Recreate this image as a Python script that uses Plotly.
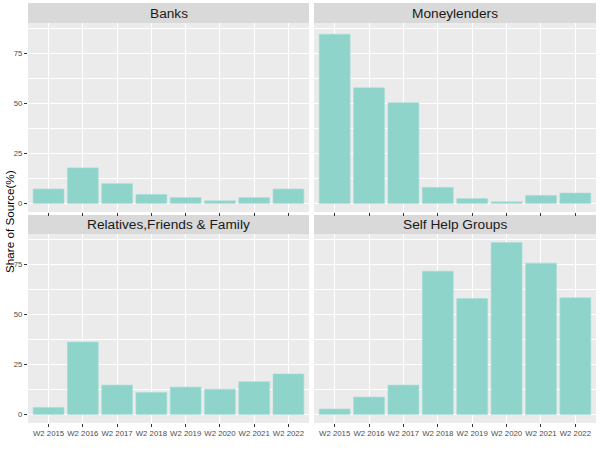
import plotly.graph_objects as go

years = ["W2 2015", "W2 2016", "W2 2017", "W2 2018", "W2 2019", "W2 2020", "W2 2021", "W2 2022"]
sources = ["Banks", "Moneylenders", "Relatives,Friends & Family", "Self Help Groups"]
banks = [7.2, 17.8, 9.9, 4.5, 2.9, 1.3, 2.9, 7.2]
moneylenders = [84.8, 57.9, 50.4, 8.0, 2.4, 0.8, 4.0, 5.2]
relatives = [3.5, 36.3, 14.7, 11.0, 13.7, 12.6, 16.4, 20.3]
shg = [2.7, 8.7, 14.7, 71.8, 58.1, 86.1, 75.8, 58.4]
series = [banks, moneylenders, relatives, shg]
y_ticks = [0, 25, 50, 75]

W, H = 600, 450
xdoms = [[28 / W, 309 / W], [314 / W, 596 / W]]
ydoms = [[(H - 212) / H, (H - 23) / H], [(H - 423) / H, (H - 234) / H]]
strips = [[(H - 23) / H, (H - 3) / H], [(H - 234) / H, (H - 215) / H]]

ymax = max(max(s) for s in series)
yrange = [-0.05 * ymax, 1.05 * ymax]

fig = go.Figure()
layout = {}
shapes = []
annotations = []
for i, (name, vals) in enumerate(zip(sources, series)):
    r, c = divmod(i, 2)
    n = i + 1
    xa = "x" if n == 1 else f"x{n}"
    ya = "y" if n == 1 else f"y{n}"
    fig.add_trace(go.Bar(
        x=years, y=vals, xaxis=xa, yaxis=ya,
        marker=dict(color="#8ED4CB", line=dict(color="#A8DED6", width=0.6)),
        showlegend=False, hoverinfo="skip",
    ))
    layout["xaxis" if n == 1 else f"xaxis{n}"] = dict(
        domain=xdoms[c], anchor=ya, range=[-0.6, 7.6], type="category",
        showgrid=True, gridcolor="white", gridwidth=1.1,
        showticklabels=(r == 1), ticks="outside", ticklen=3, tickwidth=1,
        tickcolor="#333333", tickfont=dict(family="Liberation Sans", size=7.8, color="#4D4D4D"),
        showline=False, zeroline=False, fixedrange=True,
    )
    layout["yaxis" if n == 1 else f"yaxis{n}"] = dict(
        domain=ydoms[r], anchor=xa, range=yrange,
        tickvals=y_ticks, showgrid=True, gridcolor="white", gridwidth=1.1,
        minor=dict(dtick=12.5, tick0=0, showgrid=True, gridcolor="white", gridwidth=0.5, ticks=""),
        showticklabels=(c == 0), ticks="outside" if c == 0 else "", ticklen=3, tickwidth=1,
        tickcolor="#333333", tickfont=dict(family="Liberation Sans", size=7.8, color="#4D4D4D"),
        zeroline=False, showline=False, fixedrange=True,
    )
    shapes.append(dict(type="rect", xref="paper", yref="paper",
                       x0=xdoms[c][0], x1=xdoms[c][1], y0=strips[r][0], y1=strips[r][1],
                       fillcolor="#D9D9D9", line=dict(width=0), layer="below"))
    annotations.append(dict(text=name, xref="paper", yref="paper",
                            x=(xdoms[c][0] + xdoms[c][1]) / 2, y=(strips[r][0] + strips[r][1]) / 2,
                            xanchor="center", yanchor="middle", showarrow=False,
                            font=dict(family="Liberation Sans", size=13.7, color="#1A1A1A")))
    shapes.append(dict(type="rect", xref="paper", yref="paper",
                       x0=xdoms[c][0], x1=xdoms[c][1], y0=ydoms[r][0], y1=ydoms[r][1],
                       fillcolor="#EBEBEB", line=dict(width=0), layer="below"))

annotations.append(dict(text="Share of Source(%)", xref="paper", yref="paper",
                        x=10 / W, y=(H - 222) / H, textangle=-90, showarrow=False,
                        xanchor="center", yanchor="middle",
                        font=dict(family="Liberation Sans", size=11.7, color="black")))

fig.update_layout(
    width=W, height=H, margin=dict(l=0, r=0, t=0, b=0),
    paper_bgcolor="white", plot_bgcolor="#EBEBEB",
    bargap=0.1, shapes=shapes, annotations=annotations, **layout,
)
fig.write_html("out.html", config={"displayModeBar": False},
               post_script="document.body.style.margin='0';document.body.style.overflow='hidden';")
